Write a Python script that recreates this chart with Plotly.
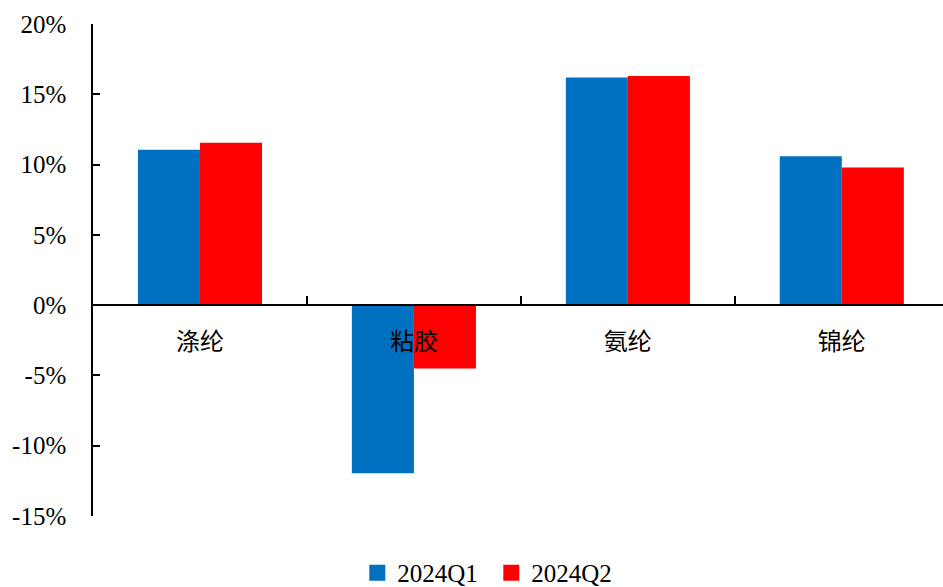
import plotly.graph_objects as go

categories = ["涤纶", "粘胶", "氨纶", "锦纶"]
q1_values = [11.05, -11.95, 16.2, 10.6]
q2_values = [11.55, -4.5, 16.3, 9.8]
series_names = ["2024Q1", "2024Q2"]
series_colors = ["#0070C0", "#FF0000"]
y_ticks = [-15, -10, -5, 0, 5, 10, 15, 20]
y_tick_labels = [f"{v}%" for v in y_ticks]

FONT = "Liberation Serif, Times New Roman, Tinos, DejaVu Serif, Noto Sans CJK SC"

fig = go.Figure()
for name, vals, col in zip(series_names, [q1_values, q2_values], series_colors):
    fig.add_trace(go.Bar(x=categories, y=vals, name=name, marker=dict(color=col, line=dict(width=0)),
                         showlegend=False))
# legend-only square markers
for name, col in zip(series_names, series_colors):
    fig.add_trace(go.Scatter(x=[None], y=[None], mode="markers", name=name,
                             marker=dict(symbol="square", size=16, color=col)))

fig.update_layout(
    width=943, height=587,
    margin=dict(l=93, r=0, t=24, b=71, autoexpand=False),
    paper_bgcolor="white", plot_bgcolor="white",
    barmode="group", bargap=0.42, bargroupgap=0,
    font=dict(family=FONT, size=24, color="black"),
    showlegend=True,
    legend=dict(orientation="h", xref="container", yref="container",
                x=0.521, xanchor="center", y=0.024, yanchor="middle",
                font=dict(size=25, family=FONT), itemwidth=30,
                entrywidth=89, entrywidthmode="pixels",
                bgcolor="rgba(0,0,0,0)"),
)
fig.update_xaxes(
    type="category", range=[-0.5, 3.473],
    anchor="free", position=15/35, automargin=False,
    showline=True, linecolor="black", linewidth=1.5,
    ticks="inside", tickson="boundaries", ticklen=8, tickcolor="black", tickwidth=1.5,
    ticklabelstandoff=15, showgrid=False, zeroline=False,
    tickfont=dict(size=24, family=FONT),
)
fig.update_yaxes(
    range=[-15, 20], tickvals=y_ticks, ticktext=y_tick_labels, automargin=False,
    showline=True, linecolor="black", linewidth=1.5,
    ticks="inside", ticklen=7, tickcolor="black", tickwidth=1.5,
    ticklabelstandoff=20, showgrid=False, zeroline=False,
    tickfont=dict(size=25, family=FONT),
)

fig.write_html("out.html", config={"displayModeBar": False},
               post_script="document.body.style.margin='0';document.body.style.overflow='hidden';")
